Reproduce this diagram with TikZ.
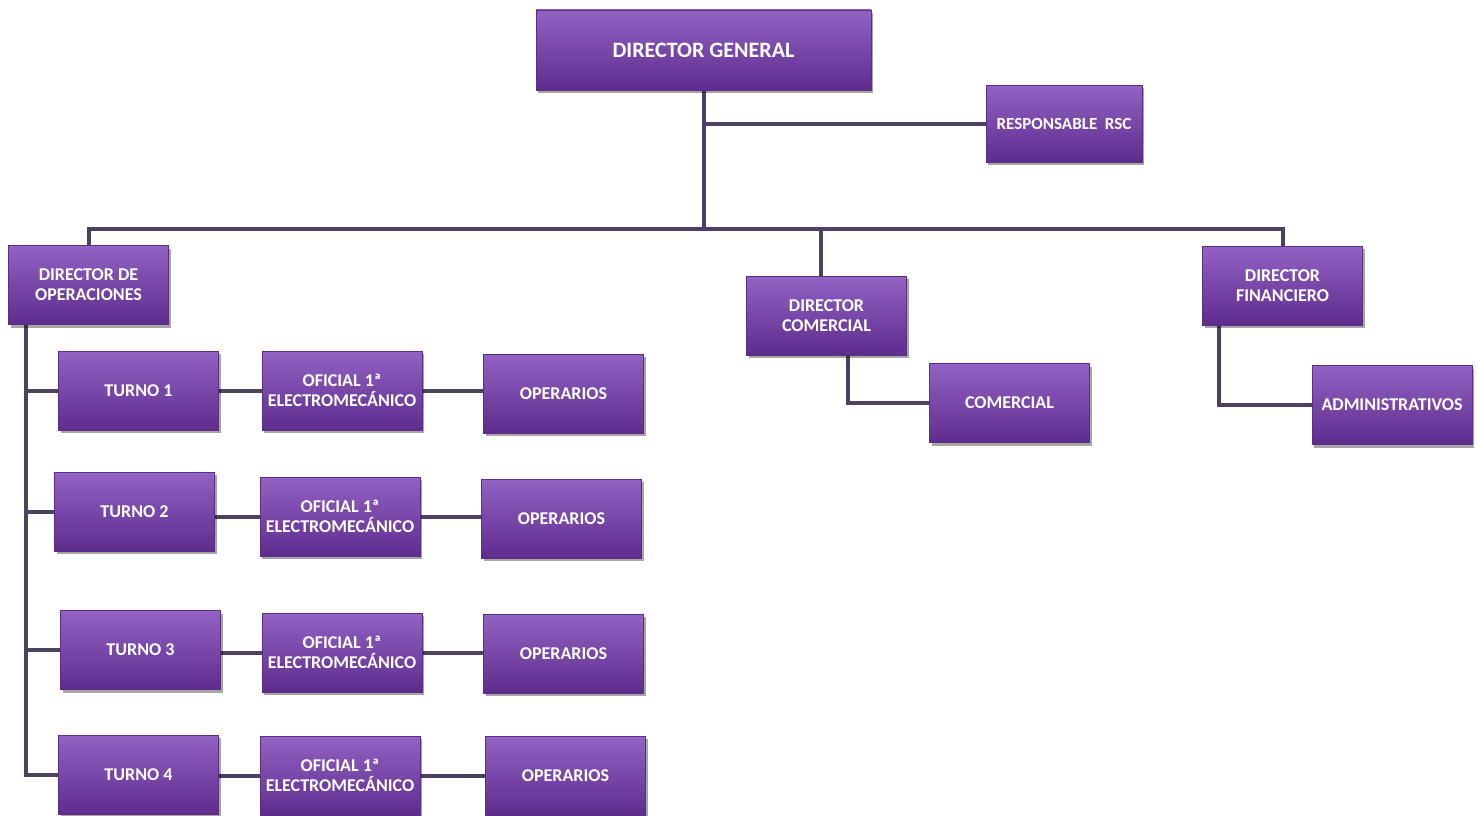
\documentclass[tikz,border=0pt]{standalone}
\usepackage{fontspec}
\setmainfont{Carlito}
\usetikzlibrary{shadows,backgrounds}
\definecolor{boxtop}{HTML}{9263C4}
\definecolor{boxmid}{HTML}{7A42AC}
\definecolor{boxbot}{HTML}{5E2C8C}
\definecolor{boxedge}{HTML}{5A2E80}
\definecolor{wire}{HTML}{4D4060}
\tikzset{
  box/.style={rectangle, draw=boxedge, line width=0.8pt,
    top color=boxtop, middle color=boxmid, bottom color=boxbot,
    text=white, align=center, inner sep=0pt,
    minimum width=160pt, minimum height=79pt,
    font=\bfseries\fontsize{18}{20}\selectfont,
    drop shadow={shadow xshift=2pt, shadow yshift=-3pt, fill=black, opacity=0.35}},
  wire/.style={draw=wire, line width=4pt},
}
\begin{document}
\begin{tikzpicture}[x=1pt,y=-1pt]
\useasboundingbox (0,0) rectangle (1477,816);

% top level
\node[box, minimum width=335pt, minimum height=80pt, font=\bfseries\fontsize{22}{24}\selectfont] (dg) at (703.5,50) {DIRECTOR GENERAL};
\node[box, minimum width=156pt, minimum height=77pt, font=\bfseries\fontsize{17}{20}\selectfont] (rsc) at (1064,123.5) {RESPONSABLE\hspace{0.45em}RSC};

% directors
\node[box] (dop) at (88.5,285) {DIRECTOR DE\\OPERACIONES};
\node[box] (dco) at (826.5,315.5) {DIRECTOR\\COMERCIAL};
\node[box] (dfi) at (1282.5,285.5) {DIRECTOR\\FINANCIERO};
\node[box] (com) at (1009.5,403) {COMERCIAL};
\node[box] (adm) at (1392,405) {ADMINISTRATIVOS};

% shifts
\node[box] (t1) at (138.5,390.5) {TURNO 1};
\node[box] (o1) at (342,390.5) {OFICIAL 1ª\\ELECTROMECÁNICO};
\node[box] (p1) at (563.5,393.5) {OPERARIOS};
\node[box] (t2) at (134.5,511.5) {TURNO 2};
\node[box] (o2) at (340,516.5) {OFICIAL 1ª\\ELECTROMECÁNICO};
\node[box] (p2) at (561.5,518.5) {OPERARIOS};
\node[box] (t3) at (140.5,650) {TURNO 3};
\node[box] (o3) at (342,652.5) {OFICIAL 1ª\\ELECTROMECÁNICO};
\node[box] (p3) at (563.5,653.5) {OPERARIOS};
\node[box] (t4) at (138.5,774.5) {TURNO 4};
\node[box] (o4) at (340,775.5) {OFICIAL 1ª\\ELECTROMECÁNICO};
\node[box] (p4) at (565.5,775.5) {OPERARIOS};

\coordinate (bus) at (0,229);
\coordinate (spine) at ([xshift=18pt]dop.south west);

\begin{scope}[on background layer]
  \fill[white] (0,0) rectangle (1477,816);
  % general director to bus and to RSC
  \draw[wire] (dg.south) -- (dg.south |- bus);
  \draw[wire] (dg.south |- rsc.west) -- (rsc.west);
  \draw[wire] (dop.north) -- (dop.north |- bus) -- (dfi.north |- bus) -- (dfi.north);
  \draw[wire] ([xshift=-6pt]dco.north |- bus) -- ([xshift=-6pt]dco.north);
  % sales and finance
  \draw[wire] ([xshift=102pt]dco.south west) |- (com.west);
  \draw[wire] ([xshift=17pt]dfi.south west) |- (adm.west);
  % operations spine
  \draw[wire] (spine) |- (t4.west);
  \draw[wire] (spine |- t1.west) -- (t1.west);
  \draw[wire] (spine |- t2.west) -- (t2.west);
  \draw[wire] (spine |- t3.west) -- (t3.west);
  % shift chains
  \foreach \i in {1,2,3,4}{
    \draw[wire] (t\i.east |- o\i.west) -- (o\i.west);
    \draw[wire] (o\i.east) -- (o\i.east -| p\i.west);
  }
\end{scope}
\end{tikzpicture}
\end{document}
